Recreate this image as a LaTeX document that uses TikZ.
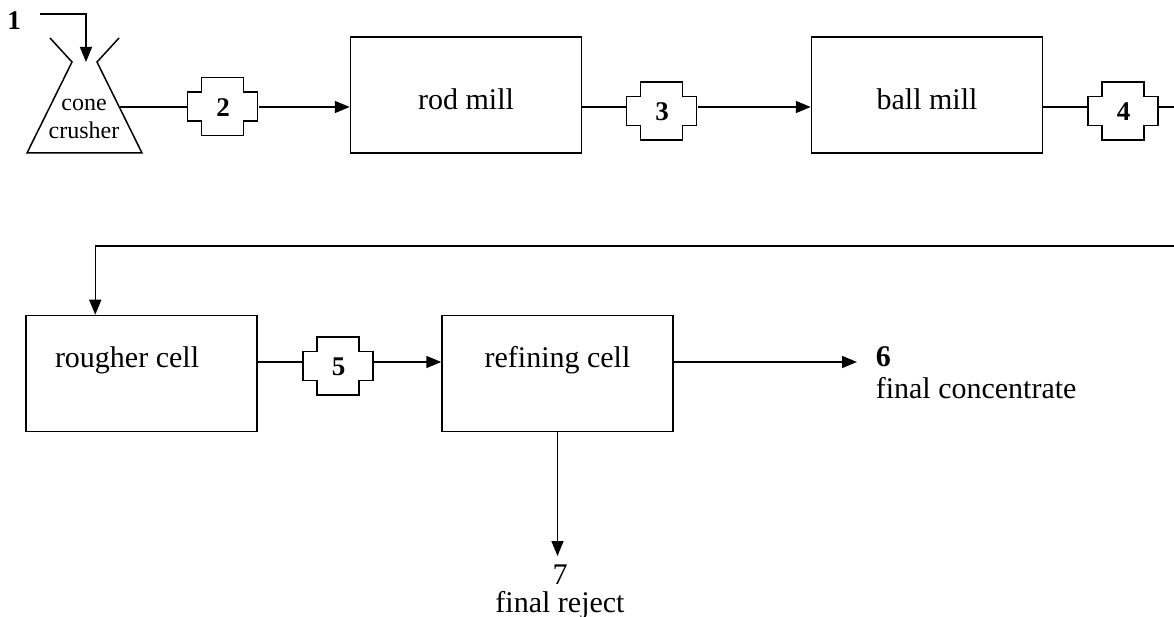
\documentclass[tikz,border=0pt]{standalone}
\usepackage{fontspec}
\setmainfont{Liberation Serif}
\usetikzlibrary{arrows.meta,calc}

\tikzset{
  unit/.style={draw, minimum width=231pt, minimum height=116pt, inner sep=0pt, font=\fontsize{30}{32}\selectfont},
  upperunit/.style={unit, text height=30pt, text depth=0pt},
  lowerunit/.style={unit, text height=10pt, text depth=23pt},
  sampler/.style={minimum width=70pt, minimum height=58pt, inner sep=0pt, font=\fontsize{27}{28}\selectfont\bfseries},
  flow/.style={-{Triangle[length=15pt,width=12pt]}},
  stream/.style={font=\fontsize{30}{32}\selectfont, inner sep=0pt},
}

\begin{document}
\begin{tikzpicture}[x=1pt, y=-1pt, line width=1.5pt]
	\useasboundingbox (0,0) rectangle (1174,617);
	% Crushing
	\draw (50,38) -- (72,62) -- (27,153) -- (142,153) -- (97,62) -- (119,38);
	\coordinate (crusherin) at (86,62);
	\coordinate (crusherout) at (119.5,107);
	\node[align=center, inner sep=0pt, font=\fontsize{24}{28}\selectfont] (crusher) at (84,118.5) {cone\\crusher};
	\node[stream, font=\fontsize{27}{27}\selectfont\bfseries] (feed) at (14,21) {1};
	\coordinate (feedline) at (40,14);
	\draw[flow] (feedline) -| (crusherin);
	% Samplers
	\node[sampler] (s2) at (223,107.5) {2};
	\node[sampler] (s3) at (662,112) {3};
	\node[sampler] (s4) at (1123.5,112) {4};
	\node[sampler] (s5) at (338.5,366.5) {5};
	\foreach \s in {s2,s3,s4,s5}
		\draw ($(\s.north west)+(14,0)$) -- ++(42,0) -- ++(0,14.5) -- ++(14,0) -- ++(0,29) -- ++(-14,0) -- ++(0,14.5) -- ++(-42,0) -- ++(0,-14.5) -- ++(-14,0) -- ++(0,-29) -- ++(14,0) -- cycle;
	% Mills and cells
	\node[upperunit] (rod) at (466,95) {rod mill};
	\node[upperunit] (ball) at (927,95) {ball mill};
	\node[lowerunit, text width=173pt, align=flush left] (rougher) at (141.5,373.5) {rougher cell};
	\node[lowerunit] (refining) at (557.5,373.5) {refining cell};
	% Grinding line
	\coordinate (upper) at (0,107);
	\coordinate (lower) at (0,362);
	\coordinate (edge) at (1174,246);
	\draw (crusherout) -- (s2.west |- upper);
	\draw[flow] (s2.east |- upper) -- (rod.west |- upper);
	\draw (rod.east |- upper) -- (s3.west |- upper);
	\draw[flow] (s3.east |- upper) -- (ball.west |- upper);
	\draw (ball.east |- upper) -- (s4.west |- upper);
	\draw (s4.east |- upper) -- (edge |- upper);
	\draw[flow] (edge) -| ($(rougher.north west)+(70,0)$);
	% Flotation line
	\draw (rougher.east |- lower) -- (s5.west |- lower);
	\draw[flow] (s5.east |- lower) -- (refining.west |- lower);
	\node[stream, anchor=north west, align=left] (conc) at (875,346) {\textbf{6}\\final concentrate};
	\draw[flow, shorten >=18pt] (refining.east |- lower) -- (conc.west |- lower);
	\node[stream, anchor=north, align=center, font=\fontsize{30}{28}\selectfont] (reject) at (560,564) {7\\final reject};
	\draw[flow, shorten >=8pt] (refining.south) -- (refining.south |- reject.north);
\end{tikzpicture}
\end{document}
